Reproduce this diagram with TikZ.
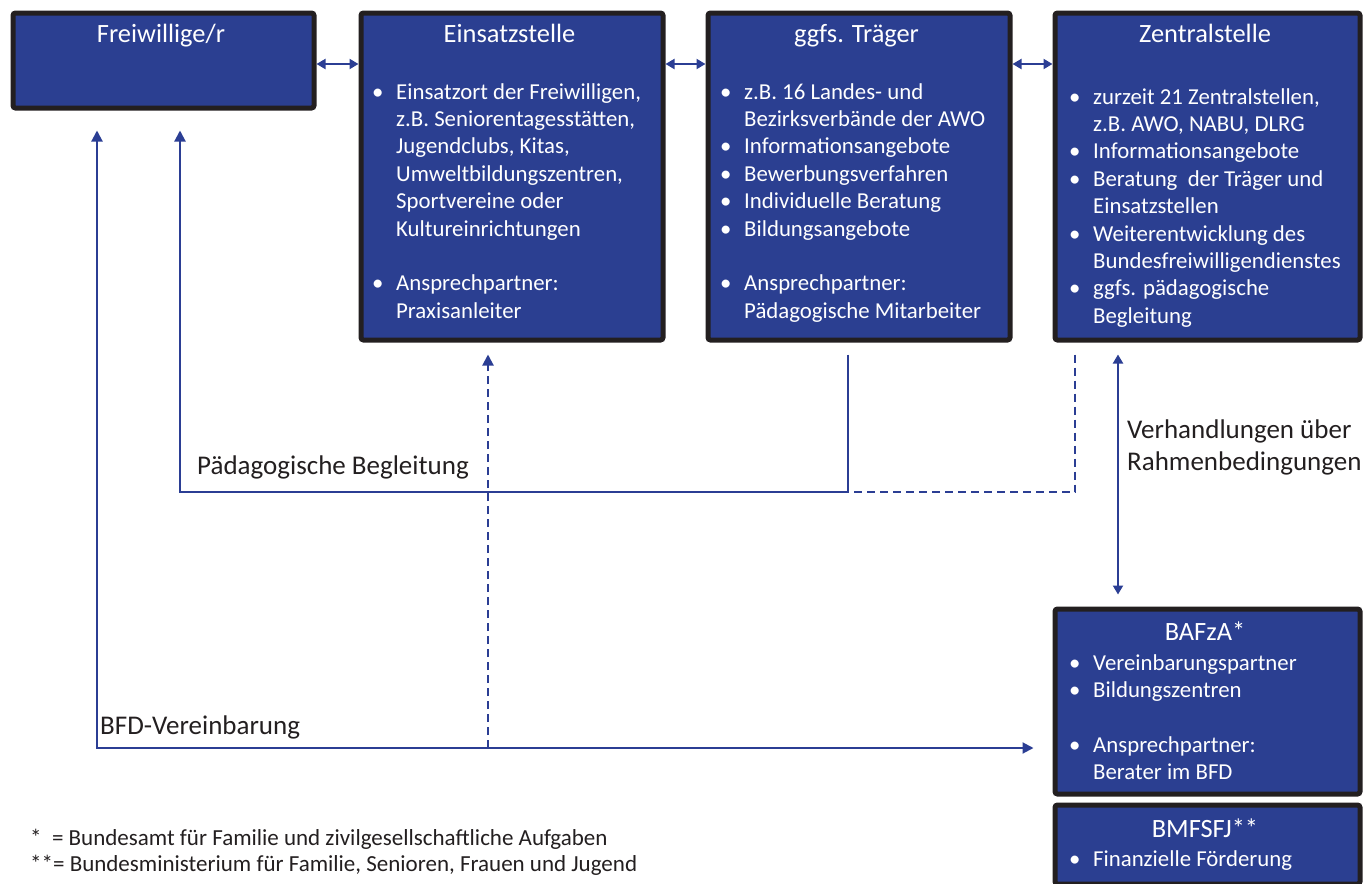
\documentclass[tikz,border=0pt]{standalone}
\usepackage{fontspec}
\setmainfont{Carlito}
\usetikzlibrary{arrows.meta}
\definecolor{boxblue}{RGB}{43,63,145}
\definecolor{boxborder}{RGB}{35,31,32}
\definecolor{lineblue}{RGB}{43,62,148}
\definecolor{txt}{RGB}{35,31,32}
\newcommand{\bu}{\makebox[24pt][l]{•}}
\newcommand{\ind}{\hspace*{24pt}}
\newcommand{\blist}[1]{\begin{minipage}[t]{300pt}\raggedright\fontsize{22.8}{27.4}\selectfont #1\end{minipage}}
\tikzset{
  box/.style={draw=boxborder, line width=5pt, fill=boxblue, rounded corners=2.5pt, inner sep=0pt, anchor=north west},
  title/.style={text=white, font=\fontsize{26.4}{31}\selectfont, anchor=base, inner sep=0pt},
  items/.style={text=white, anchor=base west, inner sep=0pt},
  lbl/.style={text=txt, font=\fontsize{27}{32}\selectfont, anchor=base west, inner sep=0pt},
  foot/.style={text=txt, font=\fontsize{23}{26}\selectfont, anchor=base west, inner sep=0pt},
  conn/.style={draw=lineblue, line width=2pt},
  tip/.style={-{Triangle[length=11pt,width=11pt]}},
  dtip/.style={{Triangle[length=9pt,width=10pt]}-{Triangle[length=9pt,width=10pt]}},
  dashln/.style={dash pattern=on 8pt off 5pt},
}
\begin{document}
\begin{tikzpicture}[x=1pt,y=-1pt]
\useasboundingbox (0,0) rectangle (1369,884);
% boxes
\node[box, minimum width=301pt, minimum height=95pt] (fw) at (10.5,10.5) {};
\node[box, minimum width=302pt, minimum height=327pt] (es) at (358.5,10.5) {};
\node[box, minimum width=302pt, minimum height=327pt] (tr) at (705.5,10.5) {};
\node[box, minimum width=305pt, minimum height=327pt] (zs) at (1052.5,10.5) {};
\node[box, minimum width=305pt, minimum height=185pt] (bz) at (1052.5,606.5) {};
\node[box, minimum width=305pt, minimum height=79pt] (bm) at (1052.5,802.5) {};
% titles
\node[title] (tfw) at (161,42) {Freiwillige/r};
\node[title] (tes) at (509.5,42) {Einsatzstelle};
\node[title] (ttr) at (856.5,42) {ggfs. Träger};
\node[title] (tzs) at (1205,42) {Zentralstelle};
\node[title] (tbz) at (1205,640) {BAFzA*};
\node[title] (tbm) at (1205,837) {BMFSFJ**};
% item lists
\node[items] (les) at (372,99) {\blist{\bu Einsatzort der Freiwilligen,\\ \ind z.B. Seniorentagesstätten,\\ \ind Jugendclubs, Kitas,\\ \ind Umweltbildungszentren,\\ \ind Sportvereine oder\\ \ind Kultureinrichtungen\\ ~\\ \bu Ansprechpartner:\\ \ind Praxisanleiter}};
\node[items] (ltr) at (720,99) {\blist{\bu z.B. 16 Landes- und\\ \ind Bezirksverbände der AWO\\ \bu Informationsangebote\\ \bu Bewerbungsverfahren\\ \bu Individuelle Beratung\\ \bu Bildungsangebote\\ ~\\ \bu Ansprechpartner:\\ \ind Pädagogische Mitarbeiter}};
\node[items] (lzs) at (1069,104) {\blist{\bu zurzeit 21 Zentralstellen,\\ \ind z.B. AWO, NABU, DLRG\\ \bu Informationsangebote\\ \bu Beratung\ \ der Träger und\\ \ind Einsatzstellen\\ \bu Weiterentwicklung des\\ \ind Bundesfreiwilligendienstes\\ \bu ggfs. pädagogische\\ \ind Begleitung}};
\node[items] (lbz) at (1069,670) {\blist{\bu Vereinbarungspartner\\ \bu Bildungszentren\\ ~\\ \bu Ansprechpartner:\\ \ind Berater im BFD}};
\node[items] (lbm) at (1069,866) {\blist{\bu Finanzielle Förderung}};
% horizontal double arrows
\coordinate (ha) at (0,64);
\draw[conn, dtip] (fw.east |- ha) -- (es.west |- ha);
\draw[conn, dtip] (es.east |- ha) -- (tr.west |- ha);
\draw[conn, dtip] (tr.east |- ha) -- (zs.west |- ha);
% BFD-Vereinbarung
\coordinate (c1) at (97,748);
\coordinate (c5) at (488,748);
\draw[conn, tip, shorten >=20pt] (c5) -- (c1) -- (fw.south -| c1);
\draw[conn, tip, shorten >=19pt] (c5) -- (bz.west |- c1);
\draw[conn, tip, dashln, shorten >=12pt] (c5) -- (es.south -| c5);
% Pädagogische Begleitung
\coordinate (c2) at (180,492);
\coordinate (c3) at (848,492);
\coordinate (c4) at (1075,492);
\draw[conn, tip, shorten >=20pt] (c3) -- (c2) -- (fw.south -| c2);
\draw[conn, shorten <=12pt] (tr.south -| c3) -- (c3);
\draw[conn, dashln, shorten <=12pt] (zs.south -| c4) -- (c4) -- (c3);
% Verhandlungen
\coordinate (c6) at (1118,0);
\draw[conn, dtip, shorten <=12pt, shorten >=12pt] (zs.south -| c6) -- (bz.north -| c6);
% labels
\node[lbl] (lpb) at (197,474) {Pädagogische Begleitung};
\node[lbl] (lbfd) at (100,734) {BFD-Vereinbarung};
\node[lbl] (lvh1) at (1127,438) {Verhandlungen über};
\node[lbl] (lvh2) at (1127,470) {Rahmenbedingungen};
\node[foot] (f1) at (30,845) {*\ \ = Bundesamt für Familie und zivilgesellschaftliche Aufgaben};
\node[foot] (f2) at (30,871) {**= Bundesministerium für Familie, Senioren, Frauen und Jugend};
\end{tikzpicture}
\end{document}
